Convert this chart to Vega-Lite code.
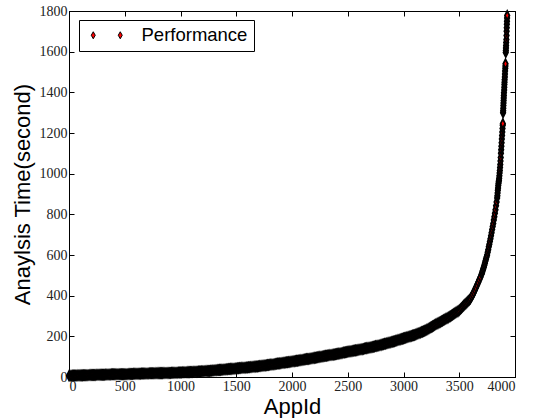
{
  "$schema": "https://vega.github.io/schema/vega-lite/v6.json",
  "width": 446,
  "height": 366,
  "autosize": "none",
  "padding": {"left": 69, "top": 11, "right": 22, "bottom": 41},
  "background": "white",
  "config": {
    "view": {"stroke": "black", "strokeWidth": 1},
    "axis": {
      "grid": false,
      "domainColor": "black",
      "tickColor": "black",
      "tickSize": -5,
      "labelFont": "Liberation Serif",
      "labelFontSize": 14,
      "labelColor": "#222",
      "titleFont": "Liberation Sans",
      "titleFontSize": 22,
      "titleFontWeight": "normal",
      "titleColor": "black"
    }
  },
  "data": {"values": [
{"a":0,"t":6},{"a":10,"t":6},{"a":20,"t":6},{"a":30,"t":7},{"a":40,"t":7},{"a":50,"t":7},{"a":60,"t":7},{"a":70,"t":7},{"a":80,"t":8},{"a":90,"t":8},
{"a":100,"t":8},{"a":110,"t":8},{"a":120,"t":8},{"a":130,"t":9},{"a":140,"t":9},{"a":150,"t":9},{"a":160,"t":9},{"a":170,"t":9},{"a":180,"t":10},{"a":190,"t":10},
{"a":200,"t":10},{"a":210,"t":10},{"a":220,"t":10},{"a":230,"t":10},{"a":240,"t":10},{"a":250,"t":11},{"a":260,"t":11},{"a":270,"t":11},{"a":280,"t":11},{"a":290,"t":11},
{"a":300,"t":11},{"a":310,"t":11},{"a":320,"t":11},{"a":330,"t":12},{"a":340,"t":12},{"a":350,"t":12},{"a":360,"t":12},{"a":370,"t":12},{"a":380,"t":13},{"a":390,"t":13},
{"a":400,"t":13},{"a":410,"t":13},{"a":420,"t":13},{"a":430,"t":13},{"a":440,"t":13},{"a":450,"t":14},{"a":460,"t":14},{"a":470,"t":14},{"a":480,"t":14},{"a":490,"t":14},
{"a":500,"t":14},{"a":510,"t":14},{"a":520,"t":14},{"a":530,"t":15},{"a":540,"t":15},{"a":550,"t":15},{"a":560,"t":15},{"a":570,"t":15},{"a":580,"t":16},{"a":590,"t":16},
{"a":600,"t":16},{"a":610,"t":16},{"a":620,"t":16},{"a":630,"t":16},{"a":640,"t":16},{"a":650,"t":17},{"a":660,"t":17},{"a":670,"t":17},{"a":680,"t":17},{"a":690,"t":17},
{"a":700,"t":17},{"a":710,"t":17},{"a":720,"t":18},{"a":730,"t":18},{"a":740,"t":18},{"a":750,"t":18},{"a":760,"t":18},{"a":770,"t":18},{"a":780,"t":19},{"a":790,"t":19},
{"a":800,"t":19},{"a":810,"t":19},{"a":820,"t":19},{"a":830,"t":19},{"a":840,"t":19},{"a":850,"t":20},{"a":860,"t":20},{"a":870,"t":20},{"a":880,"t":20},{"a":890,"t":20},
{"a":900,"t":20},{"a":910,"t":20},{"a":920,"t":21},{"a":930,"t":21},{"a":940,"t":21},{"a":950,"t":21},{"a":960,"t":21},{"a":970,"t":21},{"a":980,"t":22},{"a":990,"t":22},
{"a":1000,"t":22},{"a":1010,"t":22},{"a":1020,"t":23},{"a":1030,"t":23},{"a":1040,"t":23},{"a":1050,"t":23},{"a":1060,"t":24},{"a":1070,"t":24},{"a":1080,"t":24},{"a":1090,"t":25},
{"a":1100,"t":25},{"a":1110,"t":25},{"a":1120,"t":26},{"a":1130,"t":26},{"a":1140,"t":26},{"a":1150,"t":26},{"a":1160,"t":27},{"a":1170,"t":27},{"a":1180,"t":27},{"a":1190,"t":28},
{"a":1200,"t":28},{"a":1210,"t":28},{"a":1220,"t":29},{"a":1230,"t":29},{"a":1240,"t":30},{"a":1250,"t":30},{"a":1260,"t":30},{"a":1270,"t":31},{"a":1280,"t":31},{"a":1290,"t":32},
{"a":1300,"t":32},{"a":1310,"t":33},{"a":1320,"t":33},{"a":1330,"t":34},{"a":1340,"t":34},{"a":1350,"t":35},{"a":1360,"t":35},{"a":1370,"t":36},{"a":1380,"t":36},{"a":1390,"t":37},
{"a":1400,"t":37},{"a":1410,"t":38},{"a":1420,"t":38},{"a":1430,"t":39},{"a":1440,"t":39},{"a":1450,"t":40},{"a":1460,"t":40},{"a":1470,"t":41},{"a":1480,"t":41},{"a":1490,"t":42},
{"a":1500,"t":42},{"a":1510,"t":43},{"a":1520,"t":43},{"a":1530,"t":44},{"a":1540,"t":44},{"a":1550,"t":45},{"a":1560,"t":45},{"a":1570,"t":46},{"a":1580,"t":46},{"a":1590,"t":47},
{"a":1600,"t":47},{"a":1610,"t":48},{"a":1620,"t":48},{"a":1630,"t":49},{"a":1640,"t":49},{"a":1650,"t":50},{"a":1660,"t":51},{"a":1670,"t":51},{"a":1680,"t":52},{"a":1690,"t":52},
{"a":1700,"t":53},{"a":1710,"t":54},{"a":1720,"t":54},{"a":1730,"t":55},{"a":1740,"t":56},{"a":1750,"t":57},{"a":1760,"t":57},{"a":1770,"t":58},{"a":1780,"t":59},{"a":1790,"t":59},
{"a":1800,"t":60},{"a":1810,"t":61},{"a":1820,"t":62},{"a":1830,"t":62},{"a":1840,"t":63},{"a":1850,"t":64},{"a":1860,"t":65},{"a":1870,"t":66},{"a":1880,"t":66},{"a":1890,"t":67},
{"a":1900,"t":68},{"a":1910,"t":69},{"a":1920,"t":70},{"a":1930,"t":70},{"a":1940,"t":71},{"a":1950,"t":72},{"a":1960,"t":73},{"a":1970,"t":74},{"a":1980,"t":74},{"a":1990,"t":75},
{"a":2000,"t":76},{"a":2010,"t":77},{"a":2020,"t":78},{"a":2030,"t":79},{"a":2040,"t":80},{"a":2050,"t":80},{"a":2060,"t":81},{"a":2070,"t":82},{"a":2080,"t":83},{"a":2090,"t":84},
{"a":2100,"t":85},{"a":2110,"t":86},{"a":2120,"t":87},{"a":2130,"t":88},{"a":2140,"t":89},{"a":2150,"t":89},{"a":2160,"t":90},{"a":2170,"t":91},{"a":2180,"t":92},{"a":2190,"t":93},
{"a":2200,"t":94},{"a":2210,"t":95},{"a":2220,"t":96},{"a":2230,"t":97},{"a":2240,"t":98},{"a":2250,"t":99},{"a":2260,"t":100},{"a":2270,"t":101},{"a":2280,"t":102},{"a":2290,"t":103},
{"a":2300,"t":104},{"a":2310,"t":105},{"a":2320,"t":106},{"a":2330,"t":107},{"a":2340,"t":108},{"a":2350,"t":108},{"a":2360,"t":109},{"a":2370,"t":110},{"a":2380,"t":111},{"a":2390,"t":112},
{"a":2400,"t":113},{"a":2410,"t":114},{"a":2420,"t":115},{"a":2430,"t":116},{"a":2440,"t":117},{"a":2450,"t":118},{"a":2460,"t":120},{"a":2470,"t":121},{"a":2480,"t":122},{"a":2490,"t":123},
{"a":2500,"t":124},{"a":2510,"t":125},{"a":2520,"t":126},{"a":2530,"t":127},{"a":2540,"t":128},{"a":2550,"t":129},{"a":2560,"t":130},{"a":2570,"t":131},{"a":2580,"t":132},{"a":2590,"t":133},
{"a":2600,"t":134},{"a":2610,"t":135},{"a":2620,"t":136},{"a":2630,"t":137},{"a":2640,"t":138},{"a":2650,"t":140},{"a":2660,"t":141},{"a":2670,"t":142},{"a":2680,"t":143},{"a":2690,"t":144},
{"a":2700,"t":145},{"a":2710,"t":146},{"a":2720,"t":148},{"a":2730,"t":149},{"a":2740,"t":150},{"a":2750,"t":152},{"a":2760,"t":153},{"a":2770,"t":154},{"a":2780,"t":155},{"a":2790,"t":157},
{"a":2800,"t":158},{"a":2810,"t":160},{"a":2820,"t":161},{"a":2830,"t":163},{"a":2840,"t":164},{"a":2850,"t":166},{"a":2860,"t":167},{"a":2870,"t":169},{"a":2880,"t":170},{"a":2890,"t":172},
{"a":2900,"t":173},{"a":2910,"t":175},{"a":2920,"t":176},{"a":2930,"t":178},{"a":2940,"t":180},{"a":2950,"t":182},{"a":2960,"t":183},{"a":2970,"t":185},{"a":2980,"t":187},{"a":2990,"t":188},
{"a":3000,"t":190},{"a":3010,"t":192},{"a":3020,"t":193},{"a":3030,"t":195},{"a":3040,"t":197},{"a":3050,"t":199},{"a":3060,"t":200},{"a":3070,"t":202},{"a":3080,"t":204},{"a":3090,"t":205},
{"a":3100,"t":207},{"a":3110,"t":209},{"a":3120,"t":212},{"a":3130,"t":214},{"a":3140,"t":216},{"a":3150,"t":218},{"a":3160,"t":221},{"a":3170,"t":223},{"a":3180,"t":225},{"a":3190,"t":228},
{"a":3200,"t":230},{"a":3210,"t":233},{"a":3220,"t":236},{"a":3230,"t":240},{"a":3240,"t":243},{"a":3250,"t":246},{"a":3260,"t":249},{"a":3270,"t":252},{"a":3280,"t":256},{"a":3290,"t":259},
{"a":3300,"t":262},{"a":3310,"t":265},{"a":3320,"t":268},{"a":3330,"t":271},{"a":3340,"t":274},{"a":3350,"t":277},{"a":3360,"t":280},{"a":3370,"t":283},{"a":3380,"t":286},{"a":3390,"t":289},
{"a":3400,"t":292},{"a":3410,"t":296},{"a":3420,"t":299},{"a":3430,"t":303},{"a":3440,"t":306},{"a":3450,"t":310},{"a":3460,"t":314},{"a":3470,"t":317},{"a":3480,"t":321},{"a":3490,"t":324},
{"a":3500,"t":328},{"a":3510,"t":334},{"a":3520,"t":339},{"a":3530,"t":345},{"a":3540,"t":351},{"a":3550,"t":357},{"a":3560,"t":362},{"a":3570,"t":368},{"a":3580,"t":374},{"a":3590,"t":379},
{"a":3600,"t":385},{"a":3610,"t":395},{"a":3620,"t":405},{"a":3630,"t":416},{"a":3640,"t":428},{"a":3650,"t":440},{"a":3660,"t":452},{"a":3670,"t":465},{"a":3680,"t":478},{"a":3690,"t":491},
{"a":3700,"t":505},{"a":3705,"t":513},{"a":3710,"t":522},{"a":3715,"t":531},{"a":3720,"t":540},{"a":3725,"t":550},{"a":3730,"t":560},{"a":3735,"t":570},{"a":3740,"t":580},{"a":3745,"t":590},
{"a":3750,"t":600},{"a":3755,"t":613},{"a":3760,"t":626},{"a":3765,"t":640},{"a":3770,"t":653},{"a":3775,"t":666},{"a":3780,"t":680},{"a":3785,"t":695},{"a":3790,"t":710},{"a":3795,"t":725},
{"a":3800,"t":740},{"a":3805,"t":755},{"a":3810,"t":772},{"a":3815,"t":788},{"a":3820,"t":805},{"a":3825,"t":823},{"a":3830,"t":842},{"a":3835,"t":861},{"a":3840,"t":880},
{"a":3842,"t":892},{"a":3844,"t":905},{"a":3846,"t":918},{"a":3848,"t":930},{"a":3850,"t":942},{"a":3852,"t":952},{"a":3854,"t":960},{"a":3856,"t":968},{"a":3858,"t":978},{"a":3860,"t":990},
{"a":3862,"t":1003},{"a":3864,"t":1015},{"a":3866,"t":1030},{"a":3868,"t":1045},{"a":3870,"t":1062},{"a":3872,"t":1080},{"a":3874,"t":1100},{"a":3876,"t":1118},{"a":3878,"t":1135},{"a":3880,"t":1152},
{"a":3882,"t":1170},{"a":3884,"t":1188},{"a":3886,"t":1205},{"a":3888,"t":1222},{"a":3890,"t":1238},{"a":3891,"t":1246},
{"a":3893,"t":1300},{"a":3894,"t":1310},{"a":3895,"t":1322},{"a":3896,"t":1335},{"a":3897,"t":1348},{"a":3898,"t":1360},{"a":3899,"t":1372},{"a":3900,"t":1385},{"a":3901,"t":1398},{"a":3903,"t":1412},
{"a":3904,"t":1425},{"a":3905,"t":1438},{"a":3906,"t":1450},{"a":3907,"t":1462},{"a":3909,"t":1476},{"a":3910,"t":1490},{"a":3911,"t":1505},{"a":3913,"t":1518},{"a":3914,"t":1530},{"a":3915,"t":1540},
{"a":3917,"t":1596},{"a":3918,"t":1606},{"a":3919,"t":1618},{"a":3920,"t":1630},{"a":3921,"t":1645},{"a":3923,"t":1660},{"a":3924,"t":1680},{"a":3925,"t":1700},{"a":3926,"t":1718},{"a":3927,"t":1735},
{"a":3928,"t":1750},{"a":3929,"t":1765},{"a":3930,"t":1778}
  ]},
  "layer": [
    {
      "mark": {"type": "point", "opacity": 0},
      "encoding": {
        "x": {"field": "a", "type": "quantitative", "scale": {"domain": [0, 4000], "nice": false},
              "axis": {"orient": "top", "labels": false, "title": null, "values": [0,500,1000,1500,2000,2500,3000,3500,4000]}},
        "y": {"field": "t", "type": "quantitative", "scale": {"domain": [0, 1800], "nice": false},
              "axis": {"orient": "right", "labels": false, "title": null, "values": [0,200,400,600,800,1000,1200,1400,1600,1800]}}
      }
    },
    {
      "mark": {"type": "point", "filled": true, "shape": "M0,-1L0.5,0L0,1L-0.5,0Z", "size": 81, "stroke": "black", "strokeWidth": 1.8, "opacity": 1},
      "encoding": {
        "x": {"field": "a", "type": "quantitative",
              "axis": {"title": "AppId", "format": "d", "labelFont": "Liberation Serif", "values": [0,500,1000,1500,2000,2500,3000,3500,4000], "labelPadding": 7, "titlePadding": 3}},
        "y": {"field": "t", "type": "quantitative",
              "axis": {"title": "Anaylsis Time(second)", "format": "d", "labelFont": "Liberation Serif", "values": [0,200,400,600,800,1000,1200,1400,1600,1800], "labelPadding": 7, "titlePadding": 5}},
        "color": {"datum": "Performance", "type": "nominal", "scale": {"range": ["red"]},
                  "legend": {"title": null, "orient": "none", "legendX": 10, "legendY": 9,
                             "padding": 6, "strokeColor": "black", "fillColor": "white", "cornerRadius": 0,
                             "symbolType": "M-0.25,-0.875L0.25,0L-0.25,0.875L-0.75,0Z M6.5,-0.875L7,0L6.5,0.875L6,0Z",
                             "symbolSize": 64, "symbolStrokeColor": "black", "symbolStrokeWidth": 1, "symbolFillColor": "red", "symbolOpacity": 1,
                             "labelOffset": 38, "labelFont": "Liberation Sans", "labelFontSize": 18.5, "labelColor": "black"}}
      }
    }
  ],
  "resolve": {"axis": {"x": "independent", "y": "independent"}}
}
